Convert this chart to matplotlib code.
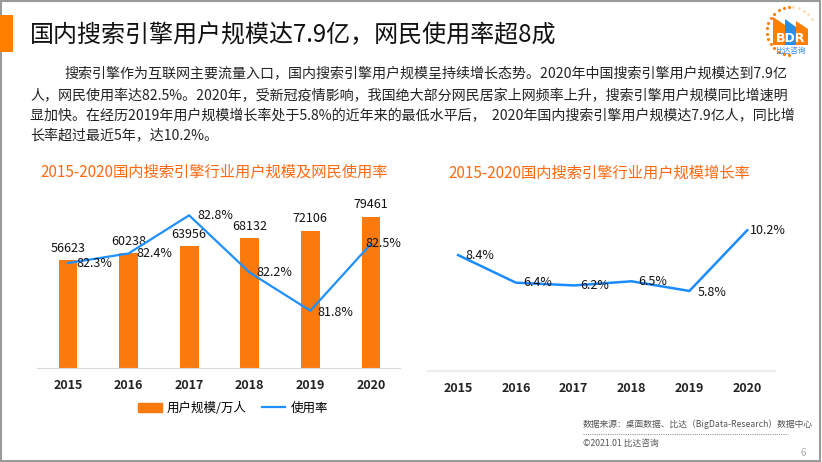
import numpy as np
import matplotlib
matplotlib.use('Agg')
import matplotlib.pyplot as plt
from matplotlib.patches import Rectangle, Polygon
from matplotlib.lines import Line2D

plt.rcParams['font.family'] = ['Noto Sans CJK SC', 'DejaVu Sans']

years = ['2015', '2016', '2017', '2018', '2019', '2020']
users = [56623, 60238, 63956, 68132, 72106, 79461]
usage_rate = [82.3, 82.4, 82.8, 82.2, 81.8, 82.5]
growth_rate = [8.4, 6.4, 6.2, 6.5, 5.8, 10.2]

title = '国内搜索引擎用户规模达7.9亿，网民使用率超8成'
para = [
    '搜索引擎作为互联网主要流量入口，国内搜索引擎用户规模呈持续增长态势。2020年中国搜索引擎用户规模达到7.9亿',
    '人，网民使用率达82.5%。2020年，受新冠疫情影响，我国绝大部分网民居家上网频率上升，搜索引擎用户规模同比增速明',
    '显加快。在经历2019年用户规模增长率处于5.8%的近年来的最低水平后，  2020年国内搜索引擎用户规模达7.9亿人，同比增',
    '长率超过最近5年，达10.2%。',
]
title_left = '2015-2020国内搜索引擎行业用户规模及网民使用率'
title_right = '2015-2020国内搜索引擎行业用户规模增长率'
legend_labels = ['用户规模/万人', '使用率']
source = '数据来源：桌面数据、比达（BigData-Research）数据中心'
copyright_txt = '©2021.01 比达咨询'

ORANGE = '#FA7A0E'
TORANGE = '#FF6A10'
BLUE = '#1E90FF'

W, H = 822, 462
fig = plt.figure(figsize=(W / 100, H / 100), dpi=100)


def fx(x):
    return x / W


def fy(y):
    return 1 - y / H


# frame
fig.patches.append(Rectangle((0.001, 0.002), 0.997, 0.996, transform=fig.transFigure,
                             fill=False, edgecolor='#9a9a9a', lw=1.5))
# title block
fig.patches.append(Rectangle((0, fy(52)), fx(13), 37 / H, transform=fig.transFigure,
                             color='#FF7F00', lw=0))
fig.text(fx(30), fy(35), title, fontsize=17.3, va='center', ha='left', color='#111')

# paragraph
para_x = [64, 30, 30, 30]
para_y = [74, 96, 116, 136]
for t, xx, yy in zip(para, para_x, para_y):
    fig.text(fx(xx), fy(yy), t, fontsize=10.1, va='center', ha='left', color='#222')

# chart titles
fig.text(fx(40), fy(172), title_left, fontsize=11, color=TORANGE, va='center')
fig.text(fx(448), fy(173), title_right, fontsize=11, color=TORANGE, va='center')

x = np.arange(len(years))

# left chart
ax1 = fig.add_axes([fx(37), fy(368), fx(400) - fx(37), (368 - 180) / H])
ax1.bar(x, users, width=0.31, color=ORANGE, zorder=2)
ax1.set_ylim(0, 98900)
ax1.set_xlim(-0.51, 5.48)
for s in ['top', 'left', 'right']:
    ax1.spines[s].set_visible(False)
ax1.spines['bottom'].set_color('#d9d9d9')
ax1.set_yticks([])
ax1.set_xticks(x)
ax1.set_xticklabels(years, fontsize=9, fontweight='bold', color='#222')
ax1.tick_params(axis='x', length=0, pad=8)
for i, v in enumerate(users):
    ax1.annotate(f'{v}', (i, v), xytext=(0, 4), textcoords='offset points',
                 ha='center', va='bottom', fontsize=9, color='#111')

ax2 = ax1.twinx()
ax2.plot(x, usage_rate, color=BLUE, lw=1.6, zorder=3)
ax2.set_ylim(81.2, 83.17)
ax2.set_xlim(-0.51, 5.48)
for s in ax2.spines.values():
    s.set_visible(False)
ax2.set_yticks([])
offs = [(6, 0), (6, 0), (6, 0), (5, 0), (5, -1), (-4, 0)]
for i, v in enumerate(usage_rate):
    ax2.annotate(f'{v}%', (i, v), xytext=offs[i], textcoords='offset points',
                 ha='left', va='center', fontsize=9, color='#111')

handles = [Rectangle((0, 0), 1, 1, color=ORANGE), Line2D([0], [0], color=BLUE, lw=1.6)]
ax1.legend(handles, legend_labels, loc='center', bbox_to_anchor=(fx(233), fy(408)),
           bbox_transform=fig.transFigure, ncol=2, frameon=False, fontsize=9,
           handlelength=1.9, columnspacing=1.2, handletextpad=0.4)

# right chart
ax3 = fig.add_axes([fx(428), fy(371), fx(775) - fx(428), (371 - 180) / H])
ax3.plot(x, growth_rate, color='#1A8CFF', lw=1.8)
ax3.set_ylim(0, 13.84)
ax3.set_xlim(-0.52, 5.48)
for s in ['top', 'left', 'right']:
    ax3.spines[s].set_visible(False)
ax3.spines['bottom'].set_color('#ececec')
ax3.spines['bottom'].set_linewidth(1.5)
ax3.set_yticks([])
ax3.set_xticks(x)
ax3.set_xticklabels(years, fontsize=9, fontweight='bold', color='#222')
ax3.tick_params(axis='x', length=0, pad=8)
offs3 = [(5, 0), (5, 0), (5, 0), (5, 0), (6, -1), (2, 0)]
for i, v in enumerate(growth_rate):
    ax3.annotate(f'{v}%', (i, v), xytext=offs3[i], textcoords='offset points',
                 ha='left', va='center', fontsize=9, color='#111')

# footer
fig.text(fx(583), fy(424), source, fontsize=6.3, color='#555', va='center')
fig.lines.append(Line2D([fx(583), fx(788)], [fy(434), fy(434)], transform=fig.transFigure,
                        color='#999', lw=0.8, linestyle=(0, (1, 1))))
fig.text(fx(583), fy(443), copyright_txt, fontsize=6.3, color='#555', va='center')
fig.text(fx(800), fy(453), '6', fontsize=7, color='#aaa', va='center')

# logo
axl = fig.add_axes([fx(755), fy(60), fx(67), 60 / H])
axl.set_xlim(755, 822)
axl.set_ylim(60, 0)
axl.axis('off')
ang = np.radians(np.linspace(95, 265, 14))
axl.scatter(791 + 24 * np.cos(ang), 31 - 24 * np.sin(ang), s=5, color='#FF7F00', lw=0)
ang2 = np.radians(np.linspace(30, 85, 5))
axl.scatter(791 + 24 * np.cos(ang2), 31 - 24 * np.sin(ang2), s=4, color='#FFD9B0', lw=0)
axl.add_patch(Polygon([(773, 45), (773, 17), (785, 25), (785, 45)], color='#FF7F00', lw=0))
axl.add_patch(Polygon([(785, 45), (785, 19), (796, 27), (796, 45)], color='#2E8BE8', lw=0))
axl.add_patch(Polygon([(796, 45), (796, 21), (808, 29), (808, 45)], color='#FF7F00', lw=0))
axl.text(790.5, 38, 'BDR', color='white', fontsize=9, fontweight='bold',
         ha='center', va='center', family='DejaVu Sans')
axl.text(790.5, 51, '比达咨询', color='#2E8BE8', fontsize=5.5, ha='center', va='center')

fig.savefig('out.png', dpi=100)
